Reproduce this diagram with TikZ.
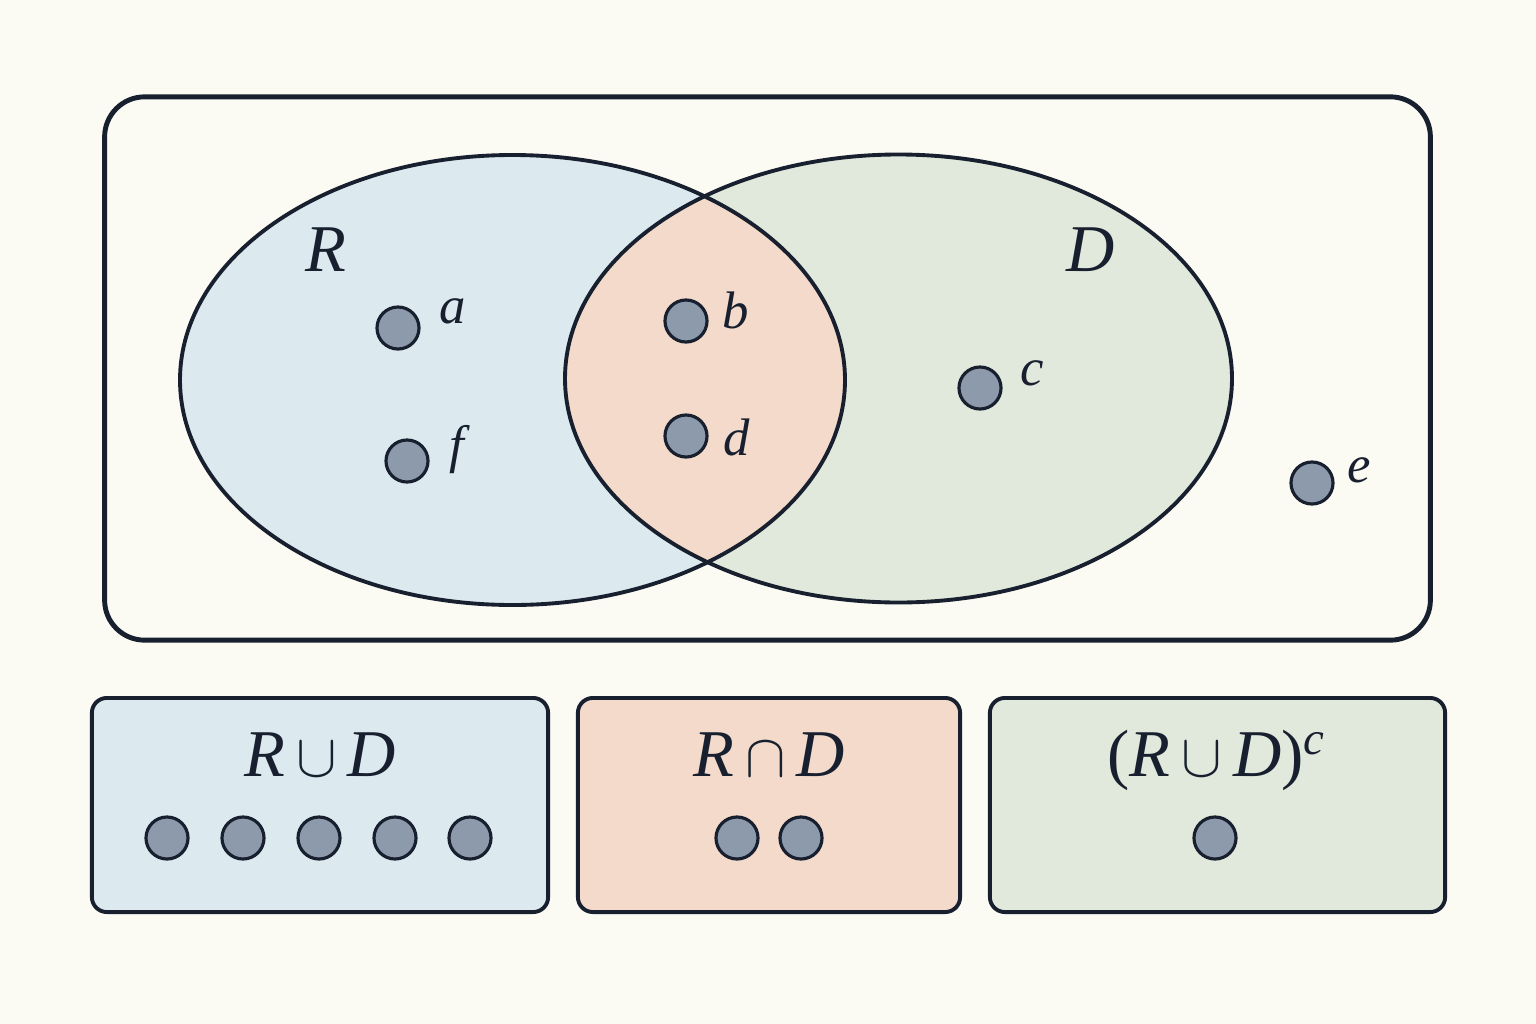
\documentclass[tikz,border=0pt]{standalone}
\usepackage{fontspec}
\setmainfont{Liberation Serif}
\begin{document}
\begin{tikzpicture}[x=0.01cm,y=-0.01cm]
\definecolor{bg}{HTML}{FBFBF3}
\definecolor{ink}{HTML}{18202F}
\definecolor{rblue}{HTML}{DCEAF0}
\definecolor{dgreen}{HTML}{E1E9DC}
\definecolor{salmon}{HTML}{F3DACA}
\definecolor{dotfill}{HTML}{8D9AAB}
\tikzset{
  dot/.style={circle,fill=dotfill,draw=ink,line width=0.9pt,minimum size=0.42cm,inner sep=0pt},
  lbl/.style={font=\fontsize{15}{18}\selectfont\itshape,text=ink,inner sep=0pt},
  big/.style={font=\fontsize{19}{22}\selectfont,text=ink,inner sep=0pt},
  panel/.style={draw=ink,line width=1.1pt,rounded corners=0.15cm}
}
\fill[bg] (0,0) rectangle (1536,1024);
\useasboundingbox (0,0) rectangle (1536,1024);
% outer universe
\node[draw=ink,line width=1.4pt,rounded corners=0.4cm,minimum width=13.25cm,minimum height=5.43cm,inner sep=0pt] (U) at (767.5,368.5) {};
% ellipses
\fill[rblue] (512.5,380) ellipse [x radius=332.5,y radius=225];
\fill[dgreen] (898.5,378.5) ellipse [x radius=333.5,y radius=224];
\begin{scope}
\clip (512.5,380) ellipse [x radius=332.5,y radius=225];
\fill[salmon] (898.5,378.5) ellipse [x radius=333.5,y radius=224];
\end{scope}
\draw[ink,line width=1.1pt] (512.5,380) ellipse [x radius=332.5,y radius=225];
\draw[ink,line width=1.1pt] (898.5,378.5) ellipse [x radius=333.5,y radius=224];
% set labels
\node[big] (Rl) at (326,250) {\textit{R}};
\node[big] (Dl) at (1091,250) {\textit{D}};
% elements
\node[dot] (a) at (398,328) {};
\node[lbl] (al) at (453,311) {a};
\node[dot] (f) at (407,461) {};
\node[lbl] (fl) at (457,450) {f};
\node[dot] (b) at (686,321) {};
\node[lbl] (bl) at (736,310) {b};
\node[dot] (d) at (686,436) {};
\node[lbl] (dl) at (737,437) {d};
\node[dot] (c) at (980,388) {};
\node[lbl] (cl) at (1032,373) {c};
\node[dot] (e) at (1312,483) {};
\node[lbl] (el) at (1359,470) {e};
% bottom panels
\node[panel,fill=rblue,minimum width=4.56cm,minimum height=2.14cm,inner sep=0pt] (P1) at (320,805) {};
\node[panel,fill=salmon,minimum width=3.82cm,minimum height=2.14cm,inner sep=0pt] (P2) at (769,805) {};
\node[panel,fill=dgreen,minimum width=4.55cm,minimum height=2.14cm,inner sep=0pt] (P3) at (1217.5,805) {};
\node[big] (t1) at (320,755) {\textit{R}\,$\cup$\,\textit{D}};
\node[big] (t2) at (769,755) {\textit{R}\,$\cap$\,\textit{D}};
\node[big] (t3) at (1217,760) {(\textit{R}\,$\cup$\,\textit{D})\textsuperscript{\textit{c}}};
\foreach \x [count=\i] in {167,243,319,395,470} \node[dot] (u\i) at (\x,838) {};
\node[dot] (i1) at (737,838) {};
\node[dot] (i2) at (801,838) {};
\node[dot] (k1) at (1215,838) {};
\end{tikzpicture}
\end{document}
